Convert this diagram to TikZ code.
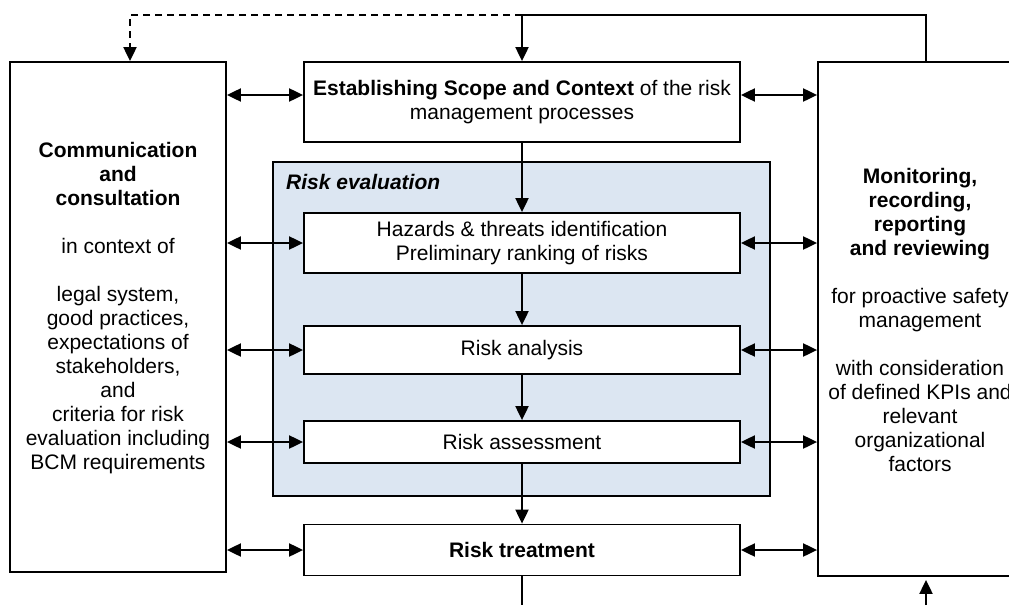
\documentclass[tikz,border=0pt]{standalone}
\usepackage{fontspec}
\setmainfont{Liberation Sans}
\usetikzlibrary{arrows.meta}

\definecolor{evalblue}{RGB}{220,230,242}

\begin{document}
\begin{tikzpicture}[x=1pt,y=-1pt,
	font=\fontsize{21}{24}\selectfont,
	box/.style={draw,line width=1.8pt,fill=white,align=center,inner sep=0pt},
	tip/.style={-{Triangle[length=14pt,width=13pt]}},
	both/.style={line width=2pt,{Triangle[length=14pt,width=13pt]}-{Triangle[length=14pt,width=13pt]}},
	down/.style={line width=2pt,tip}]

	\useasboundingbox (0,0) rectangle (1009,605);

	\coordinate (junc) at (522,15);
	\coordinate (tl) at (130,15);
	\coordinate (tr) at (926,15);
	\coordinate (outb) at (522,605);
	\coordinate (inb) at (926,605);

	% side boxes
	\node[box,minimum width=216,minimum height=510] (comm) at (118,317) {};
	\node[align=center] (commtxt) at (118,308) {\textbf{Communication}\\ \textbf{and}\\ \textbf{consultation}\\[24pt]
		in context of\\[24pt] legal system,\\ good practices,\\ expectations of\\ stakeholders,\\ and\\
		criteria for risk\\ evaluation including\\ BCM requirements};
	\node[box,minimum width=204,minimum height=514] (mon) at (920,319) {};
	\node[align=center] (montxt) at (920,320) {\textbf{Monitoring,}\\ \textbf{recording,}\\ \textbf{reporting}\\ \textbf{and reviewing}\\[24pt]
		for proactive safety\\ management\\[24pt] with consideration\\ of defined KPIs and\\ relevant\\ organizational\\ factors};

	% risk evaluation
	\node[draw,line width=1.8pt,fill=evalblue,minimum width=497,minimum height=334] (eval) at (521.5,329) {};
	\node[anchor=west,inner sep=0pt] (evaltitle) at (286,182) {\textbf{\itshape Risk evaluation}};

	\node[box,minimum width=436,minimum height=80] (est) at (522,102) {\textbf{Establishing Scope and Context} of the risk\\ management processes};
	\node[box,minimum width=436,minimum height=60] (haz) at (522,243) {Hazards \& threats identification\\ Preliminary ranking of risks};
	\node[box,minimum width=436,minimum height=48] (ana) at (522,350) {Risk analysis};
	\node[box,minimum width=436,minimum height=42] (ass) at (522,442) {Risk assessment};
	\node[box,minimum width=436,minimum height=51] (treat) at (522,550) {\textbf{Risk treatment}};

	% flow
	\draw[down] (junc) -- (est.north);
	\draw[down] (est) -- (haz);
	\draw[down] (haz) -- (ana);
	\draw[down] (ana) -- (ass);
	\draw[down] (ass) -- (treat);
	\draw[line width=2pt] (treat.south) -- (outb);
	\draw[line width=2pt,tip,shorten >=3pt] (inb) -- (inb |- mon.south);
	\draw[line width=2pt] (mon.north -| tr) -- (tr) -- (junc);
	\draw[line width=2pt,tip,dash pattern=on 7pt off 5pt] (junc) -- (tl) -- (tl |- comm.north);

	% both sides
	\draw[both] (comm.east |- 0,95) -- ([yshift=7pt]est.west);
	\draw[both] ([yshift=7pt]est.east) -- (mon.west |- 0,95);
	\foreach \n in {haz,ana,ass,treat}{
		\draw[both] (comm.east |- \n.west) -- (\n.west);
		\draw[both] (\n.east) -- (mon.west |- \n.east);
	}

\end{tikzpicture}
\end{document}
